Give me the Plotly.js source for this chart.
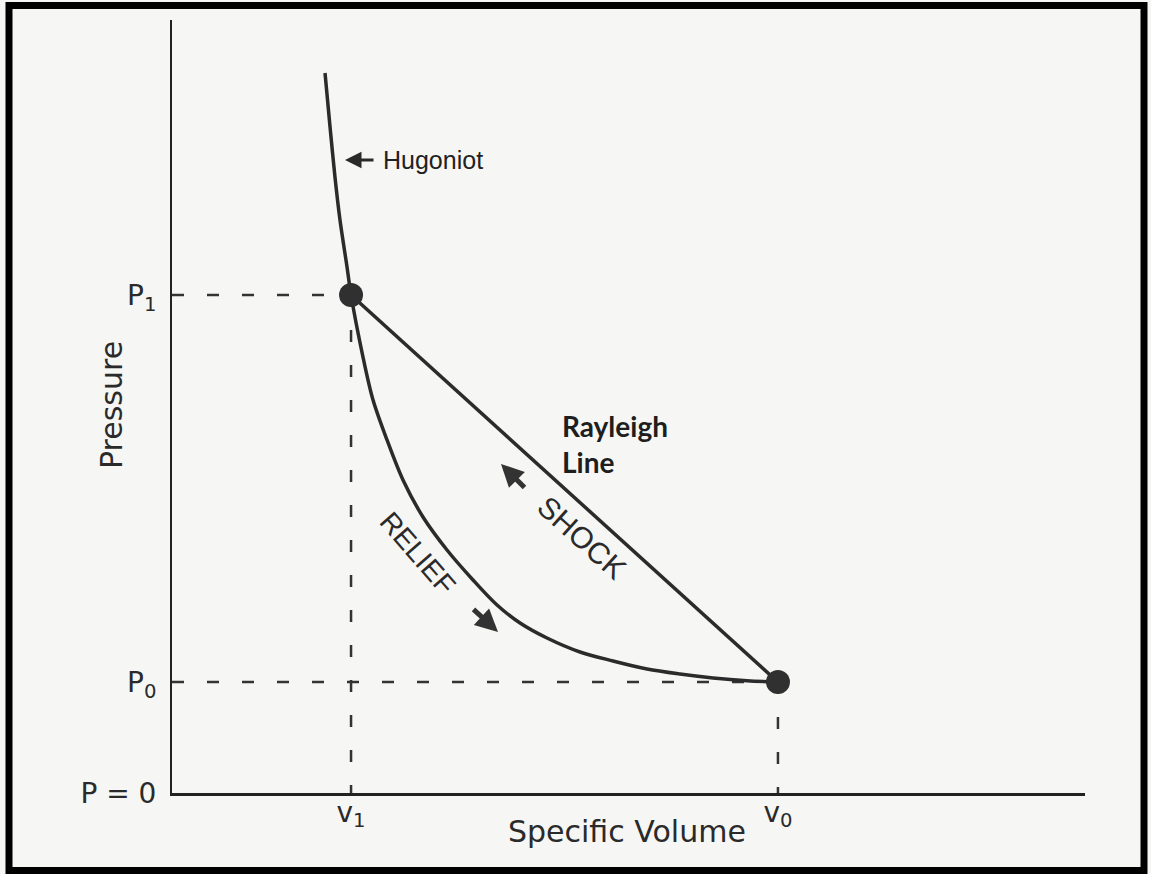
<!DOCTYPE html>
<html>
<head>
<meta charset="utf-8">
<script src="https://cdn.plot.ly/plotly-3.0.1.min.js"></script>
<style>
  html, body { margin: 0; padding: 0; background: #ffffff; }
  #chart { width: 1151px; height: 874px; }
</style>
</head>
<body>
<div id="chart"></div>
<script>
// ---- data (arbitrary units) ----
const hugoniotVolume   = [1.676, 1.731, 1.785, 1.840, 1.917, 1.961, 2.092, 2.202, 2.355, 2.530, 2.749, 3.012, 3.297, 3.560, 3.812, 4.107, 4.469, 4.830, 5.203, 5.564, 5.926, 6.298, 6.637];
const hugoniotPressure = [9.314, 8.616, 7.969, 7.412, 6.805, 6.442, 5.640, 5.084, 4.567, 4.049, 3.571, 3.144, 2.756, 2.432, 2.199, 2.005, 1.824, 1.708, 1.604, 1.539, 1.488, 1.452, 1.436];

const v1 = 1.961, v0 = 6.637;      // specific volumes
const P1 = 6.442, P0 = 1.436;      // pressures
const rayleighVolume   = [v1, v0];
const rayleighPressure = [P1, P0];

const xTickVals  = [v1, v0];
const xTickText  = ['v<sub>1</sub>', 'v<sub>0</sub>'];
const yTickVals  = [0, P0, P1];
const yTickText  = ['P = 0', 'P<sub>0</sub>', 'P<sub>1</sub>'];

const ink = '#2b2b2b';
const dashStyle = {color: '#333333', width: 2.5, dash: '12px,23px'};

const traces = [
  // dashed guides
  {x: [0, v1], y: [P1, P1], mode: 'lines', line: dashStyle, hoverinfo: 'skip'},
  {x: [v1, v1], y: [P1, 0], mode: 'lines', line: dashStyle, hoverinfo: 'skip'},
  {x: [0, v0], y: [P0, P0], mode: 'lines', line: dashStyle, hoverinfo: 'skip'},
  {x: [v0, v0], y: [P0, 0], mode: 'lines', line: dashStyle, hoverinfo: 'skip'},
  // Hugoniot
  {x: hugoniotVolume, y: hugoniotPressure, mode: 'lines', name: 'Hugoniot',
   line: {color: ink, width: 3.5, shape: 'spline', smoothing: 0.9}},
  // Rayleigh line
  {x: rayleighVolume, y: rayleighPressure, mode: 'lines+markers', name: 'Rayleigh Line',
   line: {color: ink, width: 3.5}, marker: {color: '#303030', size: 24}}
];

// plot-area geometry helpers for annotation placement (pixels -> data)
const L = 172, T = 20, W = 913, H = 773;
const X = px => (px - L) / W * 10;
const Y = py => (T + H - py) / H * 10;

const labelFont = 'Liberation Sans Narrow, Arial Narrow, Liberation Sans, Arial, sans-serif';

const annotations = [
  // Hugoniot pointer
  {x: X(345), y: Y(160), ax: 30, ay: 0, showarrow: true, text: '',
   arrowhead: 2, arrowsize: 1.1, arrowwidth: 3, arrowcolor: '#2a2a2a'},
  {x: X(381), y: Y(160), xanchor: 'left', yanchor: 'middle', showarrow: false,
   text: 'Hugoniot', font: {family: labelFont, size: 25, color: '#222222'}},
  {x: X(560), y: Y(407), xanchor: 'left', yanchor: 'top', showarrow: false, align: 'left',
   text: 'Rayleigh<br>Line', font: {family: 'Lato', size: 28, color: '#1e1e1e', weight: 'bold'}},
  {x: X(582), y: Y(537), xanchor: 'center', yanchor: 'middle', showarrow: false, textangle: 42,
   text: 'SHOCK', font: {family: 'Liberation Sans', size: 30, color: '#2a2a2a'}},
  {x: X(501), y: Y(464), ax: 25, ay: 25, showarrow: true, text: '',
   arrowhead: 2, arrowsize: 0.9, arrowwidth: 5, arrowcolor: '#333333'},
  {x: X(418), y: Y(553), xanchor: 'center', yanchor: 'middle', showarrow: false, textangle: 49,
   text: 'RELIEF', font: {family: 'Liberation Sans', size: 28, color: '#2a2a2a'}},
  {x: X(498), y: Y(632), ax: -26, ay: -24, showarrow: true, text: '',
   arrowhead: 2, arrowsize: 0.9, arrowwidth: 5, arrowcolor: '#333333'},
  // axis titles
  {xref: 'paper', yref: 'paper', x: (627 - L) / W, y: (T + H - 831) / H,
   xanchor: 'center', yanchor: 'middle', showarrow: false,
   text: 'Specific Volume', font: {family: 'DejaVu Sans', size: 30, color: '#2a2a2a'}},
  {xref: 'paper', yref: 'paper', x: (111 - L) / W, y: (T + H - 405) / H,
   xanchor: 'center', yanchor: 'middle', showarrow: false, textangle: -90,
   text: 'Pressure', font: {family: 'DejaVu Sans', size: 30, color: '#2a2a2a'}}
];

const shapes = [
  // outer frame
  {type: 'rect', xref: 'paper', yref: 'paper', layer: 'above',
   x0: (9 - L) / W, x1: (1144 - L) / W, y0: (T + H - 870.5) / H, y1: (T + H - 5.5) / H,
   line: {color: '#000000', width: 7}}
];

const layout = {
  width: 1151, height: 874,
  margin: {l: L, r: 1151 - L - W, t: T, b: 874 - T - H},
  paper_bgcolor: '#f6f6f4', plot_bgcolor: '#f6f6f4',
  showlegend: false,
  xaxis: {range: [0, 10], showgrid: false, zeroline: false, showline: true,
          linecolor: '#222222', linewidth: 3, ticks: '', tickvals: xTickVals, ticktext: xTickText,
          ticklabelstandoff: -8,
          tickfont: {family: 'DejaVu Sans', size: 28, color: '#2a2a2a'}, fixedrange: true},
  yaxis: {range: [0, 10], showgrid: false, zeroline: false, showline: true,
          linecolor: '#222222', linewidth: 2, ticks: '', tickvals: yTickVals, ticktext: yTickText,
          ticklabelstandoff: 8,
          tickfont: {family: 'DejaVu Sans', size: 28, color: '#2a2a2a'}, fixedrange: true},
  annotations: annotations,
  shapes: shapes
};

Plotly.newPlot('chart', traces, layout, {displayModeBar: false, staticPlot: true});
</script>
</body>
</html>
